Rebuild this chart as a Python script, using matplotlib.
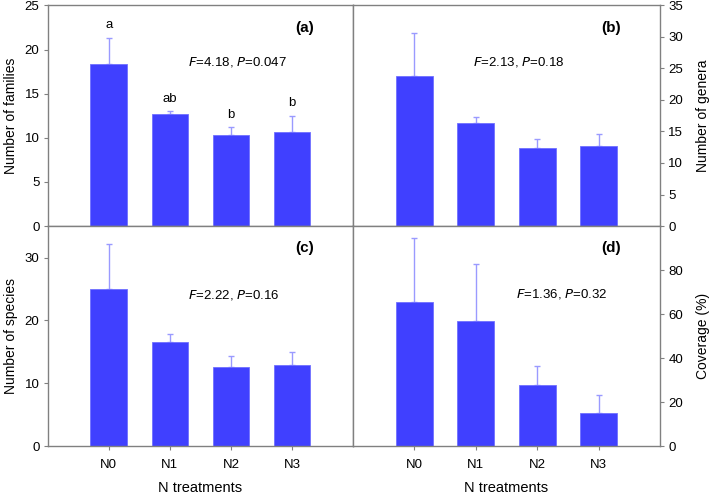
import matplotlib
matplotlib.use("Agg")
import matplotlib.pyplot as plt

plt.rcParams['font.family'] = ['Liberation Sans', 'DejaVu Sans']

treatments = ["N0", "N1", "N2", "N3"]

families = [18.4, 12.7, 10.3, 10.7]
families_se = [2.95, 0.3, 0.9, 1.8]
families_letters = ["a", "ab", "b", "b"]

genera = [23.75, 16.4, 12.35, 12.7]
genera_se = [6.85, 0.85, 1.5, 1.85]

species = [25.0, 16.65, 12.65, 13.0]
species_se = [7.1, 1.2, 1.75, 2.05]

coverage = [65.4, 57.0, 28.1, 15.2]
coverage_se = [29.0, 25.9, 8.6, 8.3]

BAR = '#4040ff'
ERR = '#9a9aff'
GREY = '#808080'

fig = plt.figure(figsize=(7.09, 4.94), dpi=100)

L, M, R = 0.0673, 0.4979, 0.9309
T, H, B = 0.9889, 0.5425, 0.0962


def panel(rect, vals, se, ylim, yticks, ylabel, tag, stat, stat_pos, right=False, bottom=False):
    ax = fig.add_axes(rect)
    x = range(len(vals))
    ax.bar(x, vals, width=0.6, color=BAR, edgecolor='#7070ff', linewidth=0.6, zorder=2)
    ax.errorbar(x, vals, yerr=[[0] * len(se), se], fmt='none', ecolor=ERR,
                elinewidth=1, capsize=2.4, capthick=1, zorder=1)
    ax.set_xlim(-1, 4)
    ax.set_ylim(*ylim)
    ax.set_yticks(yticks)
    for s in ax.spines.values():
        s.set_color(GREY)
        s.set_linewidth(1)
    ax.tick_params(axis='both', direction='out', length=3, color=GREY, labelsize=9.5, pad=3)
    if right:
        ax.yaxis.tick_right()
        ax.yaxis.set_label_position('right')
        ax.set_ylabel(ylabel, fontsize=10, labelpad=9)
    else:
        ax.set_ylabel(ylabel, fontsize=10, labelpad=5)
    if bottom:
        ax.set_xticks(list(x))
        ax.set_xticklabels(treatments, fontsize=9.5)
        ax.tick_params(axis='x', pad=6)
        ax.set_xlabel("N treatments", fontsize=10.5, labelpad=7)
    else:
        ax.set_xticks([])
    ax.text(3.2, ylim[1] * 0.9, tag, fontsize=11, fontweight='bold', ha='center', va='center')
    ax.text(stat_pos[0], stat_pos[1], stat, fontsize=9.5, ha='center', va='center')
    return ax


ax_a = panel([L, H, M - L, T - H], families, families_se, (0, 25), [0, 5, 10, 15, 20, 25],
             "Number of families", "(a)", r"$\it{F}$=4.18, $\it{P}$=0.047", (2.1, 18.6))
for i, (v, e, lab) in enumerate(zip(families, families_se, families_letters)):
    ax_a.text(i, v + e + 1.1, lab, fontsize=9.5, ha='center', va='baseline')

panel([M, H, R - M, T - H], genera, genera_se, (0, 35), [0, 5, 10, 15, 20, 25, 30, 35],
      "Number of genera", "(b)", r"$\it{F}$=2.13, $\it{P}$=0.18", (1.7, 26.0), right=True)

panel([L, B, M - L, H - B], species, species_se, (0, 35), [0, 10, 20, 30],
      "Number of species", "(c)", r"$\it{F}$=2.22, $\it{P}$=0.16", (2.05, 24.0), bottom=True)

panel([M, B, R - M, H - B], coverage, coverage_se, (0, 100), [0, 20, 40, 60, 80],
      "Coverage (%)", "(d)", r"$\it{F}$=1.36, $\it{P}$=0.32", (2.4, 69.0), right=True, bottom=True)

fig.savefig("out.png", dpi=100)
